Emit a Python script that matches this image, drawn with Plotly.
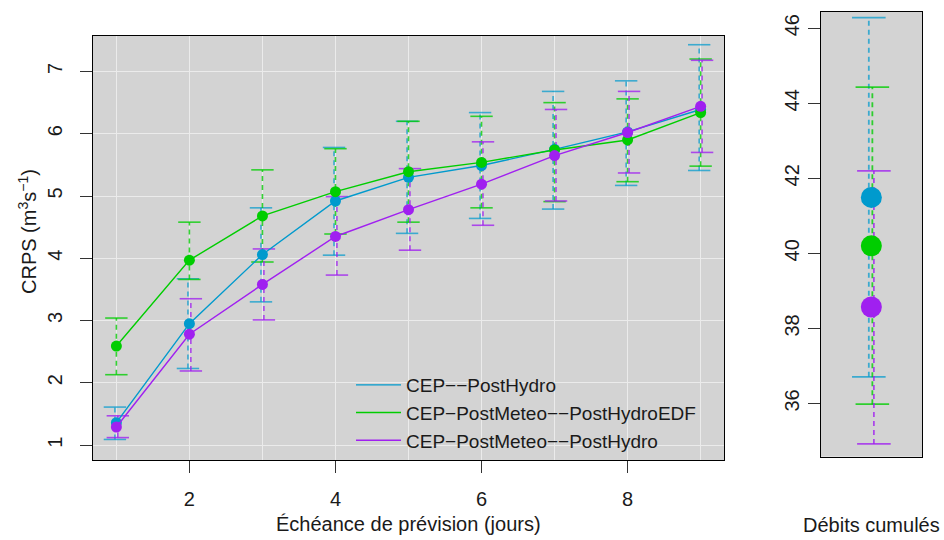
import plotly.graph_objects as go

# ---------------- data ----------------
lead_days = [1, 2, 3, 4, 5, 6, 7, 8, 9]
series_names = ["CEP\u2212\u2212PostHydro",
                "CEP\u2212PostMeteo\u2212\u2212PostHydroEDF",
                "CEP\u2212PostMeteo\u2212\u2212PostHydro"]

crps_posthydro = [1.36, 2.95, 4.06, 4.92, 5.30, 5.49, 5.75, 6.03, 6.39]
low_posthydro = [1.09, 2.23, 3.30, 4.05, 4.40, 4.64, 4.79, 5.17, 5.41]
high_posthydro = [1.61, 3.67, 4.81, 5.78, 6.20, 6.34, 6.68, 6.85, 7.43]

crps_edf = [2.59, 3.97, 4.68, 5.07, 5.39, 5.54, 5.74, 5.90, 6.34]
low_edf = [2.13, 3.66, 3.94, 4.39, 4.58, 4.81, 4.91, 5.23, 5.48]
high_edf = [3.04, 4.58, 5.42, 5.76, 6.20, 6.28, 6.50, 6.56, 7.20]

crps_meteo = [1.29, 2.78, 3.58, 4.35, 4.78, 5.19, 5.65, 6.02, 6.44]
low_meteo = [1.12, 2.19, 3.01, 3.73, 4.13, 4.53, 4.92, 5.37, 5.70]
high_meteo = [1.47, 3.35, 4.15, 4.99, 5.44, 5.87, 6.39, 6.68, 7.18]

cum_label = "Débits cumulés"
cum_crps = [41.49, 40.20, 38.57]
cum_low = [36.71, 35.98, 34.92]
cum_high = [46.28, 44.43, 42.20]

x_ticks_left = [2, 4, 6, 8]
y_ticks_left = [1, 2, 3, 4, 5, 6, 7]
y_ticks_right = [36, 38, 40, 42, 44, 46]

# ---------------- styles ----------------
colors = ["#009ACD", "#00CD00", "#A020F0"]
bar_colors = ["rgba(0,154,205,0.72)", "rgba(0,205,0,0.78)", "rgba(160,32,240,0.78)"]
left_offsets = [-0.02, 0.0, 0.02]
right_offsets = [-0.05, 0.02, 0.05]
FONT = "Liberation Sans, Arial, sans-serif"

means = [crps_posthydro, crps_edf, crps_meteo]
lows = [low_posthydro, low_edf, low_meteo]
highs = [high_posthydro, high_edf, high_meteo]

fig = go.Figure()

# error bars (dashed) and caps, left panel
for i in range(3):
    xs, ys = [], []
    for x, lo, hi in zip(lead_days, lows[i], highs[i]):
        xs += [x + left_offsets[i], x + left_offsets[i], None]
        ys += [lo, hi, None]
    fig.add_trace(go.Scatter(x=xs, y=ys, mode="lines", showlegend=False, hoverinfo="skip",
                             line=dict(color=bar_colors[i], width=1.6, dash="5px,4px"),
                             xaxis="x", yaxis="y"))
    capx = [x + left_offsets[i] for x in lead_days] * 2
    capy = lows[i] + highs[i]
    fig.add_trace(go.Scatter(x=capx, y=capy, mode="markers", showlegend=False, hoverinfo="skip",
                             marker=dict(symbol="line-ew", size=16,
                                         line=dict(color=bar_colors[i], width=1.6)),
                             xaxis="x", yaxis="y"))

# series lines + points
for i in range(3):
    fig.add_trace(go.Scatter(x=lead_days, y=means[i], mode="lines", name=series_names[i],
                             line=dict(color=colors[i], width=1.4), xaxis="x", yaxis="y"))
    fig.add_trace(go.Scatter(x=lead_days, y=means[i], mode="markers", showlegend=False,
                             marker=dict(color=colors[i], size=11, line=dict(width=0)),
                             xaxis="x", yaxis="y"))

# right panel
for i in range(3):
    xr = 1 + right_offsets[i]
    fig.add_trace(go.Scatter(x=[xr, xr], y=[cum_low[i], cum_high[i]], mode="lines",
                             showlegend=False, hoverinfo="skip",
                             line=dict(color=bar_colors[i], width=1.8, dash="5px,4px"),
                             xaxis="x2", yaxis="y2"))
    fig.add_trace(go.Scatter(x=[xr, xr], y=[cum_low[i], cum_high[i]], mode="markers",
                             showlegend=False, hoverinfo="skip",
                             marker=dict(symbol="line-ew", size=24,
                                         line=dict(color=bar_colors[i], width=1.8)),
                             xaxis="x2", yaxis="y2"))
for i in range(3):
    fig.add_trace(go.Scatter(x=[1], y=[cum_crps[i]], mode="markers", showlegend=False,
                             marker=dict(color=colors[i], size=21, line=dict(width=0)),
                             xaxis="x2", yaxis="y2"))

W, H = 944, 540
axis_common = dict(showline=True, linecolor="black", linewidth=1.3, mirror=True,
                   ticks="outside", ticklen=12, tickwidth=1.2, tickcolor="#333333",
                   zeroline=False, tickfont=dict(family=FONT, size=20, color="#1a1a1a"))

fig.update_layout(
    width=W, height=H,
    margin=dict(l=0, r=0, t=0, b=0),
    paper_bgcolor="white", plot_bgcolor="#D3D3D3",
    font=dict(family=FONT, size=20, color="#1a1a1a"),
    xaxis=dict(domain=[93 / W, 724 / W], range=[0.68, 9.32], tickmode="array",
               tickvals=x_ticks_left, showgrid=True, gridcolor="#EBEBEB", gridwidth=1,
               minor=dict(dtick=1, tick0=0, showgrid=True, gridcolor="#EBEBEB", gridwidth=1,
                          ticks=""),
               ticklabelstandoff=9, anchor="y", **axis_common),
    yaxis=dict(domain=[1 - 460 / H, 1 - 36 / H], range=[0.76, 7.57], tickmode="array",
               tickvals=y_ticks_left, showgrid=True, gridcolor="#EBEBEB", gridwidth=1,
               tickangle=-90, ticklabelstandoff=10, anchor="x", **axis_common),
    xaxis2=dict(domain=[820.7 / W, 922 / W], range=[0, 2], showticklabels=False,
                showgrid=False, showline=True, linecolor="black", linewidth=1.3,
                mirror=True, ticks="", zeroline=False, anchor="y2"),
    yaxis2=dict(domain=[1 - 456.7 / H, 1 - 11.7 / H], range=[34.58, 46.44], tickmode="array",
                tickvals=y_ticks_right, showgrid=False, tickangle=-90, ticklabelstandoff=1,
                anchor="x2", **axis_common),
    legend=dict(x=351 / W, y=1 - 366 / H, xanchor="left", yanchor="top",
                bgcolor="rgba(0,0,0,0)", borderwidth=0,
                font=dict(family=FONT, size=19, color="#1a1a1a"),
                itemwidth=45, tracegroupgap=0),
    showlegend=True,
    annotations=[
        dict(text="Échéance de prévision (jours)", xref="paper", yref="paper",
             x=408.5 / W, y=1 - 524 / H, showarrow=False, xanchor="center", yanchor="middle",
             font=dict(family=FONT, size=20, color="#1a1a1a")),
        dict(text=cum_label, xref="paper", yref="paper",
             x=871 / W, y=1 - 525 / H, showarrow=False, xanchor="center", yanchor="middle",
             font=dict(family=FONT, size=20, color="#1a1a1a")),
        dict(text="CRPS (m<sup>3</sup>s<sup>\u22121</sup>)", xref="paper", yref="paper",
             x=28 / W, y=1 - 232 / H, showarrow=False, xanchor="center", yanchor="middle",
             textangle=-90, font=dict(family=FONT, size=20, color="#1a1a1a")),
    ],
)

fig.write_html("out.html", config={"displayModeBar": False},
               post_script="document.body.style.margin='0';document.body.style.padding='0';")
